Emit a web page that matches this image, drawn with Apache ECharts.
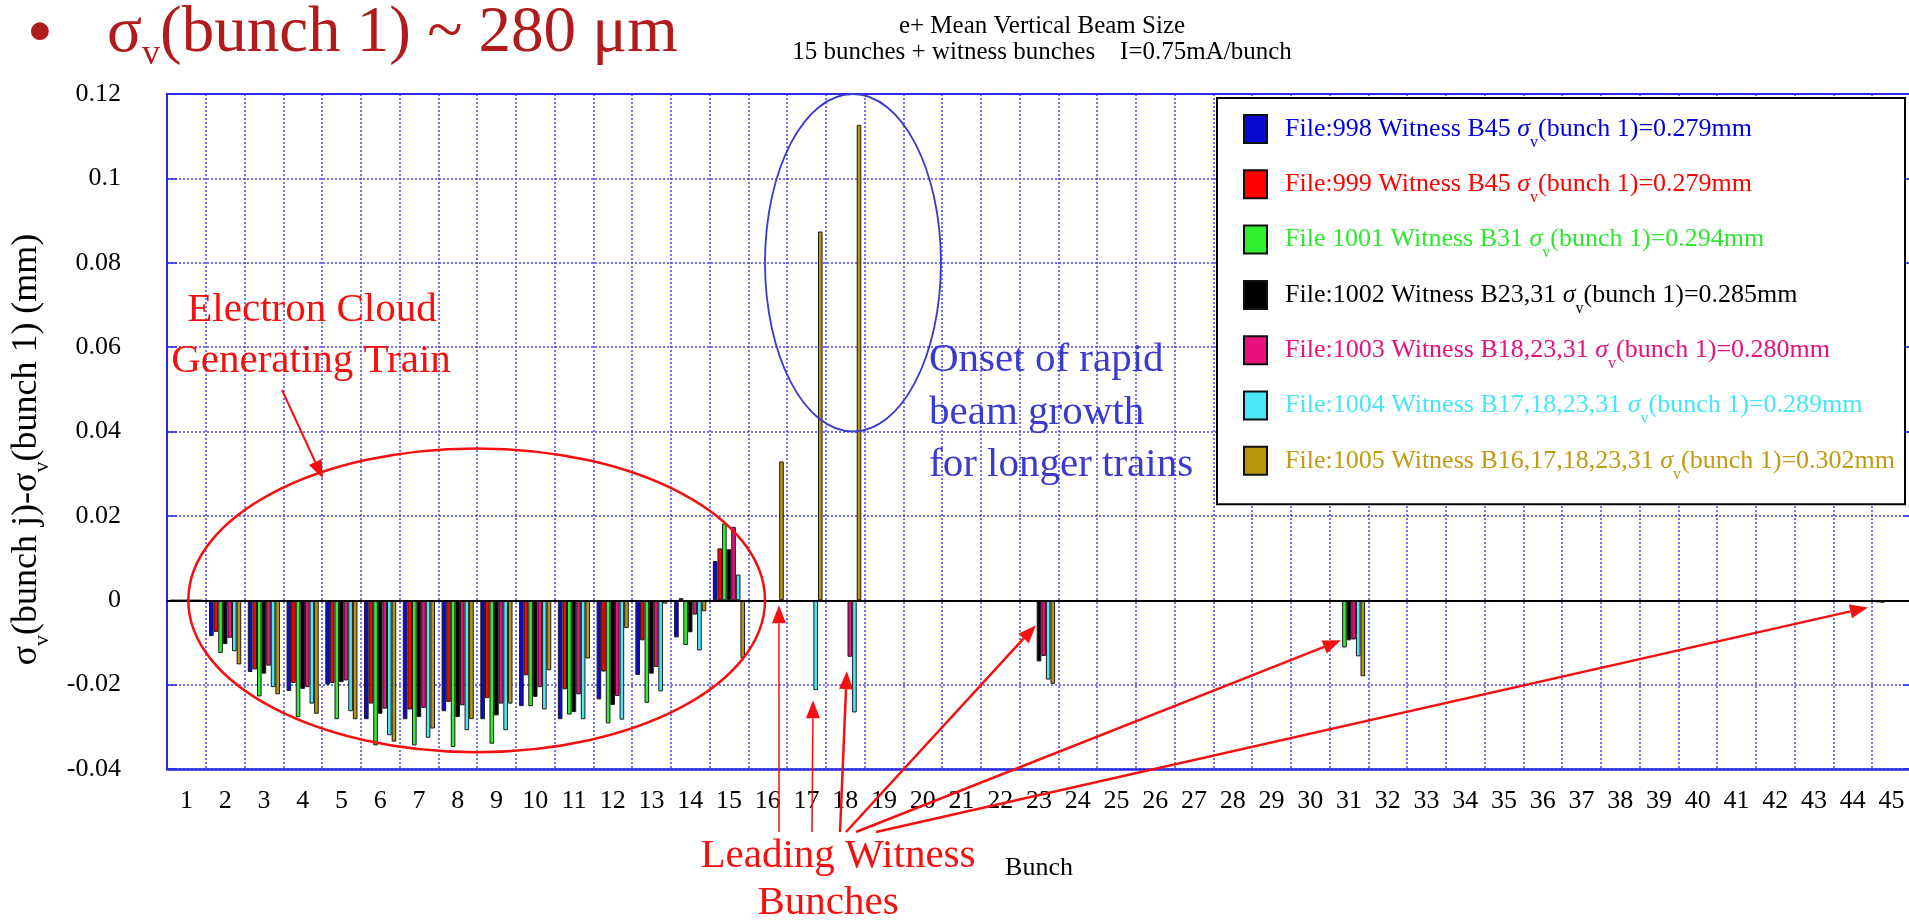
<!DOCTYPE html>
<html>
<head>
<meta charset="utf-8">
<title>e+ Mean Vertical Beam Size</title>
<script src="https://cdn.jsdelivr.net/npm/echarts@6/dist/echarts.min.js"></script>
<style>
  html, body { margin: 0; padding: 0; background: #fff; }
  #chart { width: 1909px; height: 920px; }
</style>
</head>
<body>
<div id="chart"></div>
<script>
// Bunch numbers along the train (x categories)
const bunchLabels = ['1','2','3','4','5','6','7','8','9','10','11','12','13','14','15','16','17','18','19','20',
  '21','22','23','24','25','26','27','28','29','30','31','32','33','34','35','36','37','38','39','40',
  '41','42','43','44','45'];

// y-axis ticks (mm)
const yMin = -0.04, yMax = 0.12, yStep = 0.02;

const seriesNames = [
  'File:998 Witness B45',
  'File:999 Witness B45',
  'File 1001 Witness B31',
  'File:1002 Witness B23,31',
  'File:1003 Witness B18,23,31',
  'File:1004 Witness B17,18,23,31',
  'File:1005 Witness B16,17,18,23,31'
];
const sigmaBunch1 = ['0.279', '0.279', '0.294', '0.285', '0.280', '0.289', '0.302'];
const barColors  = ['#0a0ad2', '#ff0000', '#2ef02e', '#000000', '#e8107c', '#4ce8f6', '#b8960c'];
const textColors = ['#0000e0', '#ff0000', '#2ee82e', '#000000', '#e8107c', '#46e6f6', '#c09a12'];

// sigma_v(bunch j) - sigma_v(bunch 1), bunches 1..15 of the train
const train998  = [0, -0.0085, -0.0170, -0.0215, -0.0200, -0.0282, -0.0282, -0.0263, -0.0282, -0.0251, -0.0282, -0.0235, -0.0177, -0.0088, 0.0093];
const train999  = [0, -0.0075, -0.0164, -0.0196, -0.0196, -0.0245, -0.0259, -0.0241, -0.0232, -0.0178, -0.0211, -0.0169, -0.0095, 0.0005, 0.0123];
const train1001 = [0, -0.0125, -0.0228, -0.0277, -0.0282, -0.0344, -0.0344, -0.0348, -0.0340, -0.0251, -0.0271, -0.0292, -0.0243, -0.0106, 0.0182];
const train1002 = [0, -0.0104, -0.0174, -0.0210, -0.0194, -0.0269, -0.0277, -0.0277, -0.0273, -0.0229, -0.0265, -0.0248, -0.0174, -0.0076, 0.0121];
const train1003 = [0, -0.0089, -0.0155, -0.0206, -0.0190, -0.0257, -0.0255, -0.0249, -0.0245, -0.0206, -0.0223, -0.0227, -0.0158, -0.0034, 0.0174];
const train1004 = [0, -0.0121, -0.0206, -0.0245, -0.0263, -0.0320, -0.0326, -0.0308, -0.0308, -0.0259, -0.0282, -0.0283, -0.0216, -0.0119, 0.0061];
const train1005 = [0, -0.0152, -0.0223, -0.0269, -0.0282, -0.0335, -0.0304, -0.0282, -0.0245, -0.0166, -0.0138, -0.0066, -0.0008, -0.0026, -0.0137];

// witness bunches: [bunch number, value]
const witness998  = [[45, -0.0005]];
const witness999  = [[45, -0.0006]];
const witness1001 = [[31, -0.0112]];
const witness1002 = [[23, -0.0145], [31, -0.0095]];
const witness1003 = [[18, -0.0134], [23, -0.0132], [31, -0.0093]];
const witness1004 = [[17, -0.0213], [18, -0.0266], [23, -0.0188], [31, -0.0133]];
const witness1005 = [[16, 0.0329], [17, 0.0874], [18, 0.1127], [23, -0.0198], [31, -0.0180]];

const trains = [train998, train999, train1001, train1002, train1003, train1004, train1005];
const witnesses = [witness998, witness999, witness1001, witness1002, witness1003, witness1004, witness1005];

function buildRow(train, witness) {
  const row = bunchLabels.map(() => null);
  train.forEach((v, i) => { row[i] = v; });
  witness.forEach(([b, v]) => { row[b - 1] = v; });
  return row;
}

const FONT = "'Liberation Serif', 'Times New Roman', Times, serif";
const AXIS_BLUE = '#2a2ae6';
const GRID_BLUE = '#4646f0';
const RED = '#f51010';
const NOTE_BLUE = '#3a3acc';
const HEAD_RED = '#b01c1c';

function legendRich(color) {
  return {
    t0: { color, fontFamily: FONT, fontSize: 26, padding: [0, 0, 0, 13] },
    t:  { color, fontFamily: FONT, fontSize: 26 },
    g:  { color, fontFamily: FONT, fontSize: 26, fontStyle: 'italic' },
    s:  { color, fontFamily: FONT, fontSize: 16, padding: [27, 0, 0, 0] }
  };
}

const series = seriesNames.map((name, i) => {
  const s = {
    name,
    type: 'bar',
    data: buildRow(trains[i], witnesses[i]),
    barGap: '0%',
    barCategoryGap: '17%',
    itemStyle: { color: barColors[i], borderColor: '#1a1a1a', borderWidth: 1 },
    emphasis: { disabled: true }
  };
  if (i === 0) {
    s.markLine = {
      silent: true,
      symbol: 'none',
      label: { show: false },
      lineStyle: { color: '#000', width: 2, type: 'solid' },
      data: [{ yAxis: 0 }]
    };
  }
  return s;
});

const chart = echarts.init(document.getElementById('chart'), null, { renderer: 'canvas' });

chart.setOption({
  animation: false,
  backgroundColor: '#fff',
  textStyle: { fontFamily: FONT },
  title: {
    text: 'e+ Mean Vertical Beam Size',
    subtext: '15 bunches + witness bunches    I=0.75mA/bunch',
    left: 1042,
    top: 14,
    textAlign: 'center',
    itemGap: 1,
    padding: 0,
    textStyle: { fontFamily: FONT, fontSize: 25, fontWeight: 'normal', color: '#000', lineHeight: 25 },
    subtextStyle: { fontFamily: FONT, fontSize: 25, color: '#000', lineHeight: 25 }
  },
  legend: {
    orient: 'vertical',
    left: 1217,
    top: 98,
    padding: [16, 10, 22, 26],
    itemGap: 18.8,
    itemWidth: 23,
    itemHeight: 28,
    icon: 'rect',
    backgroundColor: '#fff',
    borderColor: '#000',
    borderWidth: 2,
    borderRadius: 0,
    itemStyle: { borderColor: '#111', borderWidth: 2 },
    textStyle: { fontFamily: FONT, fontSize: 26 },
    data: seriesNames.map((n, i) => ({ name: n, textStyle: { color: textColors[i], rich: legendRich(textColors[i]) } })),
    formatter: (name) => {
      const i = seriesNames.indexOf(name);
      return '{t0|' + name + ' }{g|σ}{s|v}{t|(bunch 1)=' + sigmaBunch1[i] + 'mm}';
    }
  },
  grid: { left: 167, top: 94, width: 1744, height: 675, containLabel: false, outerBoundsMode: 'none' },
  xAxis: [
    {
      type: 'category',
      data: bunchLabels,
      position: 'bottom',
      boundaryGap: true,
      axisLine: { onZero: false, lineStyle: { color: AXIS_BLUE, width: 2.5 } },
      axisTick: { inside: true, length: 10, lineStyle: { color: AXIS_BLUE, width: 1.5 } },
      axisLabel: { interval: 0, margin: 19, fontFamily: FONT, fontSize: 26, color: '#000' },
      splitLine: { show: true, interval: 0, lineStyle: { color: GRID_BLUE, width: 1.5, type: [2, 2] } },
      name: 'Bunch',
      nameLocation: 'middle',
      nameGap: 86,
      nameTextStyle: { fontFamily: FONT, fontSize: 26, color: '#000' }
    },
    {
      type: 'category',
      data: bunchLabels,
      position: 'top',
      boundaryGap: true,
      axisLine: { onZero: false, lineStyle: { color: AXIS_BLUE, width: 2 } },
      axisTick: { inside: true, length: 8, lineStyle: { color: AXIS_BLUE, width: 1.5 } },
      axisLabel: { show: false },
      splitLine: { show: false }
    }
  ],
  yAxis: [
    {
      type: 'value',
      min: yMin,
      max: yMax,
      interval: yStep,
      axisLine: { show: true, lineStyle: { color: AXIS_BLUE, width: 2 } },
      axisTick: { show: true, inside: true, length: 10, lineStyle: { color: AXIS_BLUE, width: 1.5 } },
      axisLabel: {
        margin: 46, fontFamily: FONT, fontSize: 26, color: '#000',
        formatter: (v) => String(+v.toFixed(2))
      },
      splitLine: { show: true, lineStyle: { color: GRID_BLUE, width: 1.5, type: [2, 2] } },
      name: '{m|σ}{s|v}{m|(bunch j)-σ}{s|v}{m|(bunch 1) (mm)}',
      nameLocation: 'middle',
      nameRotate: 90,
      nameGap: 114,
      nameTextStyle: {
        padding: [0, 36, 0, 0],
        rich: {
          m: { fontFamily: FONT, fontSize: 36, color: '#000' },
          s: { fontFamily: FONT, fontSize: 22, color: '#000', padding: [30, 0, 0, 0] }
        }
      }
    },
    {
      type: 'value',
      position: 'right',
      min: yMin,
      max: yMax,
      interval: yStep,
      axisLine: { show: true, lineStyle: { color: AXIS_BLUE, width: 2 } },
      axisTick: { show: true, inside: true, length: 8, lineStyle: { color: AXIS_BLUE, width: 1.5 } },
      axisLabel: { show: false },
      splitLine: { show: false }
    }
  ],
  series
});

// ---- annotations, anchored to the data coordinate system ----
const x0 = chart.convertToPixel({ xAxisIndex: 0 }, 0);
const x1 = chart.convertToPixel({ xAxisIndex: 0 }, 1);
const catW = x1 - x0;
const xAt = (bunch) => x0 + (bunch - 1) * catW;
const yAt = (v) => chart.convertToPixel({ yAxisIndex: 0 }, v);

function arrow(xa, ya, xb, yb, width, color) {
  const dx = xb - xa, dy = yb - ya, len = Math.hypot(dx, dy);
  const ux = dx / len, uy = dy / len, head = 18, half = 7;
  const bx = xb - ux * head, by = yb - uy * head;
  const nx = -uy, ny = ux;
  return [
    { type: 'line', z: 100, silent: true, shape: { x1: xa, y1: ya, x2: bx, y2: by }, style: { stroke: color, lineWidth: width } },
    { type: 'polygon', z: 100, silent: true,
      shape: { points: [[xb, yb], [bx + nx * half, by + ny * half], [bx - nx * half, by - ny * half]] },
      style: { fill: color } }
  ];
}

function note(text, x, y, color, size, align) {
  return { type: 'text', z: 100, silent: true, x, y,
    style: { text, fill: color, fontFamily: FONT, fontSize: size, align: align || 'center', verticalAlign: 'middle' } };
}

const NOTE_SIZE = 41;
const graphics = [];

// slide heading
graphics.push({ type: 'text', z: 100, silent: true, x: 40, y: 36,
  style: { text: '•', fill: HEAD_RED, fontFamily: FONT, fontSize: 75, align: 'center', verticalAlign: 'middle' } });
graphics.push({ type: 'text', z: 100, silent: true, x: 107, y: -6,
  style: {
    text: '{m|σ}{s|v}{m|(bunch 1) ~ 280 μm}',
    align: 'left', verticalAlign: 'top',
    rich: {
      m: { fill: HEAD_RED, fontFamily: FONT, fontSize: 65 },
      s: { fill: HEAD_RED, fontFamily: FONT, fontSize: 36, padding: [43, 0, 0, 0] }
    }
  } });

// train ellipse
graphics.push({ type: 'ellipse', z: 100, silent: true,
  shape: { cx: xAt(8.49), cy: yAt(0), rx: 7.44 * catW, ry: yAt(0) - yAt(0.036) },
  style: { fill: 'none', stroke: RED, lineWidth: 2.5 } });
// growth ellipse
graphics.push({ type: 'ellipse', z: 100, silent: true,
  shape: { cx: xAt(18.2), cy: yAt(0.08), rx: 2.27 * catW, ry: yAt(0.04) - yAt(0.08) },
  style: { fill: 'none', stroke: NOTE_BLUE, lineWidth: 1.8 } });

graphics.push(note('Electron Cloud', 312, 310, RED, NOTE_SIZE));
graphics.push(note('Generating Train', 311, 361, RED, NOTE_SIZE));
graphics.push(...arrow(282, 390, xAt(4.52), yAt(0.0289), 2, RED));

graphics.push(note('Onset of rapid', 929, 360, NOTE_BLUE, NOTE_SIZE, 'left'));
graphics.push(note('beam growth', 929, 413, NOTE_BLUE, NOTE_SIZE, 'left'));
graphics.push(note('for longer trains', 929, 465, NOTE_BLUE, NOTE_SIZE, 'left'));

graphics.push(note('Leading Witness', 838, 856, RED, NOTE_SIZE));
graphics.push(note('Bunches', 828, 903, RED, NOTE_SIZE));
const baseY = 832;
graphics.push(...arrow(779, baseY, xAt(16.29), yAt(-0.0012), 1.5, RED));
graphics.push(...arrow(812, baseY, xAt(17.17), yAt(-0.0237), 1.5, RED));
graphics.push(...arrow(840, baseY, xAt(18.04), yAt(-0.0168), 2.5, RED));
graphics.push(...arrow(846, baseY, xAt(22.92), yAt(-0.0059), 2.5, RED));
graphics.push(...arrow(856, baseY, xAt(30.79), yAt(-0.0095), 2.5, RED));
graphics.push(...arrow(876, baseY, xAt(44.39), yAt(-0.0017), 2.5, RED));

chart.setOption({ graphic: graphics });
</script>
</body>
</html>
